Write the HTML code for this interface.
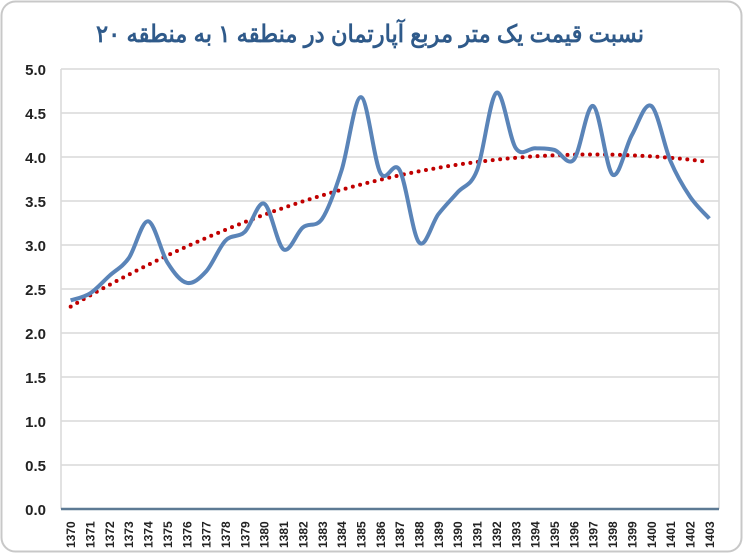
<!DOCTYPE html>
<html><head><meta charset="utf-8"><style>
html,body{margin:0;padding:0;background:#fff;}
body{width:743px;height:553px;overflow:hidden;}
</style></head><body>
<svg id="s" width="743" height="553" xmlns="http://www.w3.org/2000/svg" font-family="Liberation Sans, sans-serif">
<rect x="1.5" y="1.5" width="740" height="550" rx="14" fill="#fff" stroke="#c8c8c8" stroke-width="2"/>
<text x="370" y="42" text-anchor="middle" font-family="Liberation Sans, 'Noto Sans CJK SC', sans-serif" font-size="24" font-weight="bold" fill="#2f5a8a" direction="rtl" textLength="548" lengthAdjust="spacingAndGlyphs">نسبت قیمت یک متر مربع آپارتمان در منطقه ۱ به منطقه ۲۰</text>
<g id="g"></g>
</svg>
<script>
const g=document.getElementById('g');
const X0=61,X1=719,Y0=509,S=88,N=34,W=(X1-X0)/N;
let h='';
for(let i=1;i<=10;i++){const y=Y0-i*44;h+=`<line x1="${X0}" x2="${X1}" y1="${y}" y2="${y}" stroke="#d9d9d9" stroke-width="1.5"/>`;}
h+=`<line x1="${X0}" x2="${X0}" y1="69" y2="${Y0}" stroke="#d9d9d9" stroke-width="1.5"/>`;
h+=`<line x1="${X1}" x2="${X1}" y1="69" y2="${Y0}" stroke="#d9d9d9" stroke-width="1.5"/>`;
for(let i=0;i<=10;i++){const y=Y0-i*44;h+=`<text x="46" y="${y+6}" text-anchor="end" font-size="15" font-weight="bold" fill="#222">${(i/2).toFixed(1)}</text>`;}
for(let i=0;i<N;i++){const x=X0+W*(i+0.5);h+=`<text transform="translate(${x+4.5},${548}) rotate(-90)" font-size="12" font-weight="bold" fill="#222">${1370+i}</text>`;}
const v=[2.37,2.45,2.65,2.85,3.27,2.8,2.57,2.7,3.05,3.15,3.47,2.95,3.2,3.3,3.85,4.68,3.82,3.85,3.03,3.35,3.6,3.85,4.73,4.1,4.1,4.08,3.97,4.58,3.8,4.25,4.58,3.95,3.55,3.3];
const P=v.map((a,i)=>[X0+W*(i+0.5),Y0-a*S]);
let d=`M${P[0][0]},${P[0][1]}`;
for(let i=0;i<P.length-1;i++){const p0=P[Math.max(0,i-1)],p1=P[i],p2=P[i+1],p3=P[Math.min(P.length-1,i+2)];const t=1/6;
d+=` C${p1[0]+(p2[0]-p0[0])*t},${p1[1]+(p2[1]-p0[1])*t} ${p2[0]-(p3[0]-p1[0])*t},${p2[1]-(p3[1]-p1[1])*t} ${p2[0]},${p2[1]}`;}
let td='';
for(let i=0;i<=330;i++){const t=i/10;const f=2.3+0.1281*t-0.002373*t*t;td+=(i?'L':'M')+(X0+W*(t+0.5))+','+(Y0-f*S);}
h+=`<path d="${td}" fill="none" stroke="#c00000" stroke-width="4" stroke-linecap="round" stroke-dasharray="0 7.5"/>`;
h+=`<path d="${d}" fill="none" stroke="#5a84b8" stroke-width="4" stroke-linejoin="round"/>`;
h+=`<line x1="${X0}" x2="${X1}" y1="${Y0}" y2="${Y0}" stroke="#5d7a94" stroke-width="2.5"/>`;
g.innerHTML=h;
</script>
</body></html>
